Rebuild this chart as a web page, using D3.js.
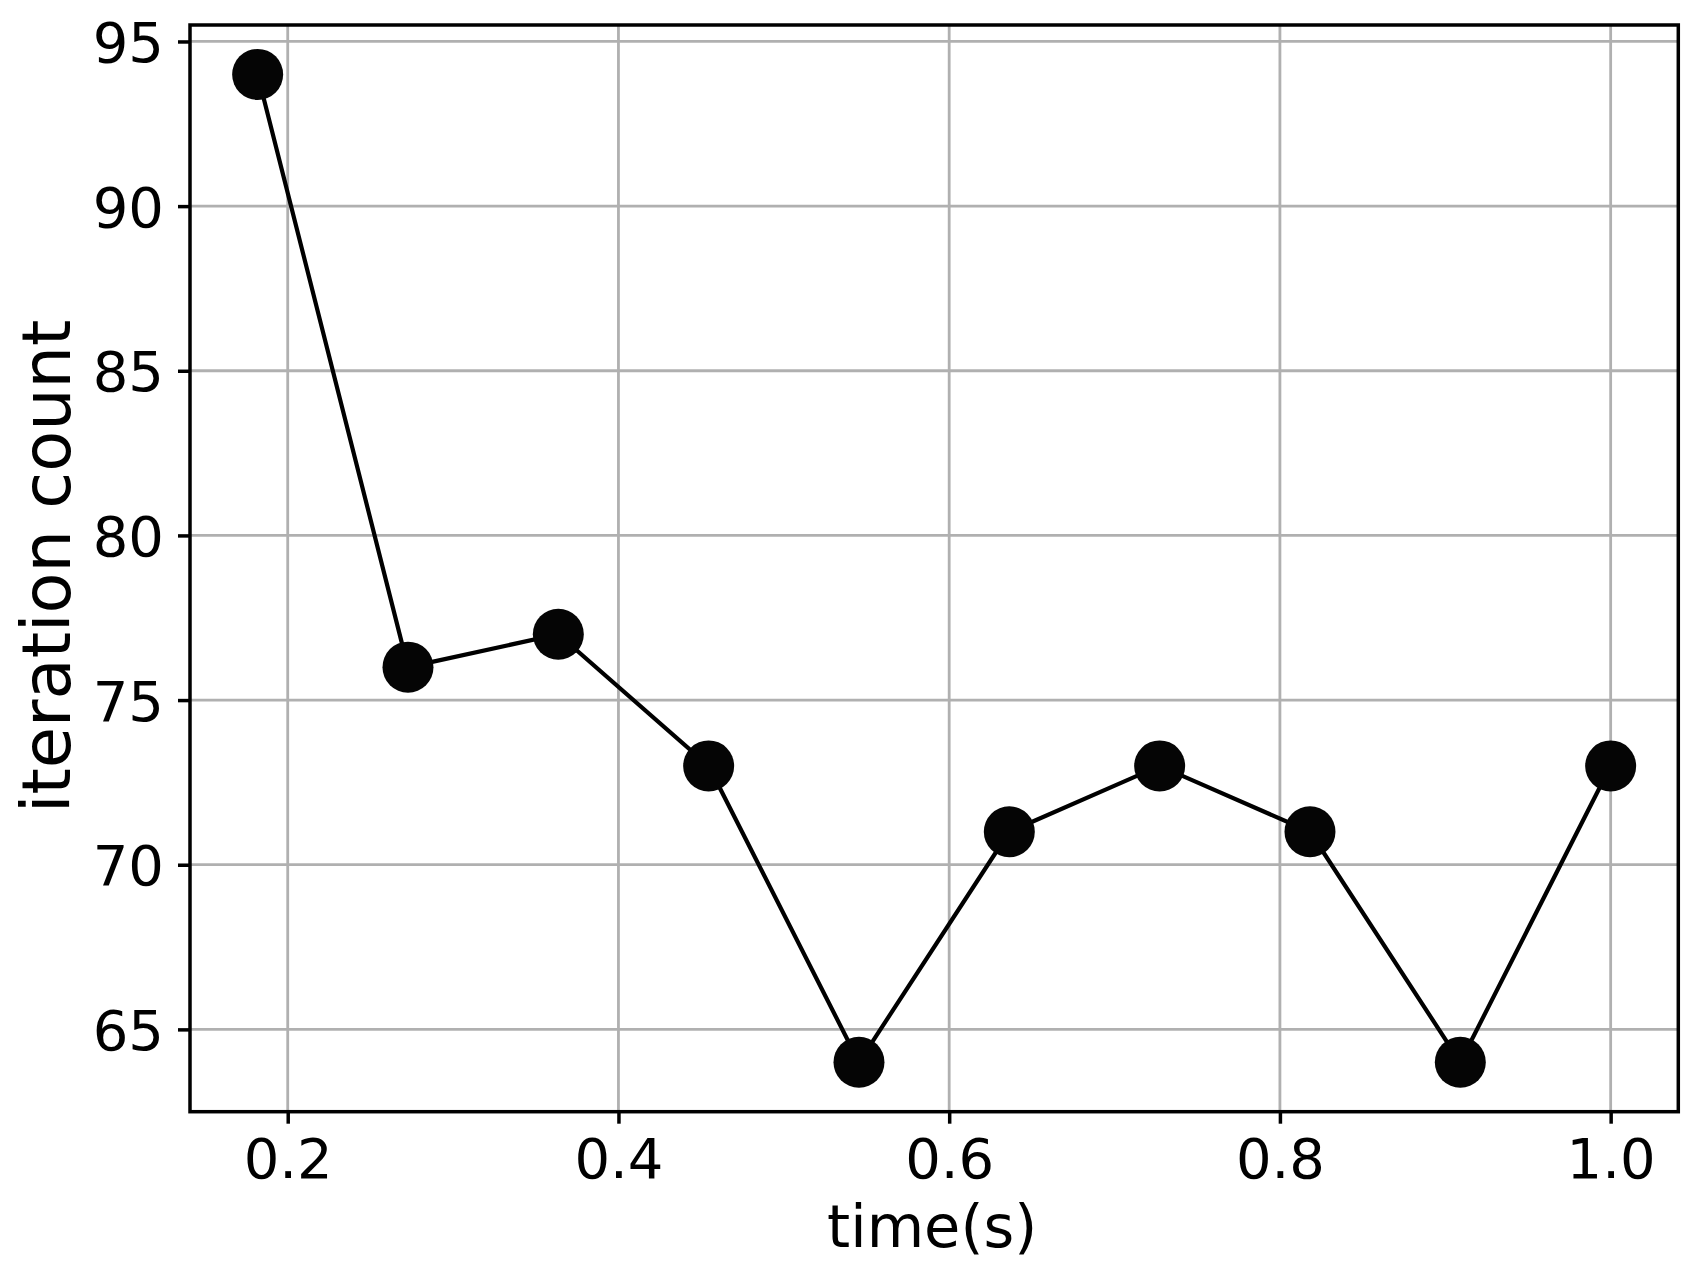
<!DOCTYPE html>
<html>
<head>
<meta charset="utf-8">
<script src="https://cdn.jsdelivr.net/npm/d3@7"></script>
<style>
  html, body { margin: 0; padding: 0; background: #fff; }
  svg { display: block; }
  text { font-family: "DejaVu Sans", sans-serif; fill: #000; }
</style>
</head>
<body>
<svg id="chart" width="1689" height="1271"></svg>
<script>
const timeValues = [2/11, 3/11, 4/11, 5/11, 6/11, 7/11, 8/11, 9/11, 10/11, 1.0];
const iterationCounts = [94, 76, 77, 73, 64, 71, 73, 71, 64, 73];
const xTicks = [0.2, 0.4, 0.6, 0.8, 1.0];
const yTicks = [65, 70, 75, 80, 85, 90, 95];
const xTitle = "time(s)";
const yTitle = "iteration count";

const W = 1689, H = 1271;
const margin = { left: 190, top: 25, right: W - 1678.3, bottom: H - 1111.7 };
const iw = W - margin.left - margin.right;
const ih = H - margin.top - margin.bottom;

const svg = d3.select("#chart");
const g = svg.append("g").attr("transform", `translate(${margin.left},${margin.top})`);

const xMin = d3.min(timeValues), xMax = d3.max(timeValues);
const xPad = (xMax - xMin) * 0.05;
const yMin = d3.min(iterationCounts), yMax = d3.max(iterationCounts);
const yPad = (yMax - yMin) * 0.05;

const x = d3.scaleLinear().domain([xMin - xPad, xMax + xPad]).range([0, iw]);
const y = d3.scaleLinear().domain([yMin - yPad, yMax + yPad]).range([ih, 0]);

// grid
g.append("g").selectAll("line").data(xTicks).join("line")
  .attr("x1", d => x(d)).attr("x2", d => x(d))
  .attr("y1", 0).attr("y2", ih)
  .attr("stroke", "#b0b0b0").attr("stroke-width", 2.8);
g.append("g").selectAll("line").data(yTicks).join("line")
  .attr("x1", 0).attr("x2", iw)
  .attr("y1", d => y(d)).attr("y2", d => y(d))
  .attr("stroke", "#b0b0b0").attr("stroke-width", 2.8);

// line
const line = d3.line().x((d, i) => x(timeValues[i])).y(d => y(d));
g.append("path").datum(iterationCounts)
  .attr("d", line).attr("fill", "none")
  .attr("stroke", "#000").attr("stroke-width", 4.2);

// markers
g.append("g").selectAll("circle").data(iterationCounts).join("circle")
  .attr("cx", (d, i) => x(timeValues[i])).attr("cy", d => y(d))
  .attr("r", 25.5).attr("fill", "#050505");

// axes
const xAxis = d3.axisBottom(x).tickValues(xTicks).tickFormat(d3.format(".1f"))
  .tickSize(12).tickPadding(8);
const yAxis = d3.axisLeft(y).tickValues(yTicks).tickFormat(d3.format("d"))
  .tickSize(12).tickPadding(14);

const gx = g.append("g").attr("transform", `translate(0,${ih})`).call(xAxis);
const gy = g.append("g").call(yAxis);
[gx, gy].forEach(a => {
  a.select(".domain").remove();
  a.selectAll(".tick line").attr("stroke", "#000").attr("stroke-width", 3.5);
  a.selectAll(".tick text").attr("font-family", "DejaVu Sans, sans-serif")
    .attr("font-size", 56).attr("fill", "#000");
});
gx.selectAll(".tick text").attr("dy", null).attr("y", 66).attr("dominant-baseline", "auto");
gy.selectAll(".tick text").attr("dy", "0.36em");

// frame
g.append("rect").attr("x", 0).attr("y", 0).attr("width", iw).attr("height", ih)
  .attr("fill", "none").attr("stroke", "#000").attr("stroke-width", 3.5);

// titles
svg.append("text").attr("x", margin.left + iw / 2 - 2).attr("y", 1247)
  .attr("text-anchor", "middle").attr("font-size", 59).text(xTitle);
svg.append("text").attr("transform", `translate(70,${margin.top + ih / 2 - 2}) rotate(-90)`)
  .attr("text-anchor", "middle").attr("font-size", 67).text(yTitle);
</script>
</body>
</html>
